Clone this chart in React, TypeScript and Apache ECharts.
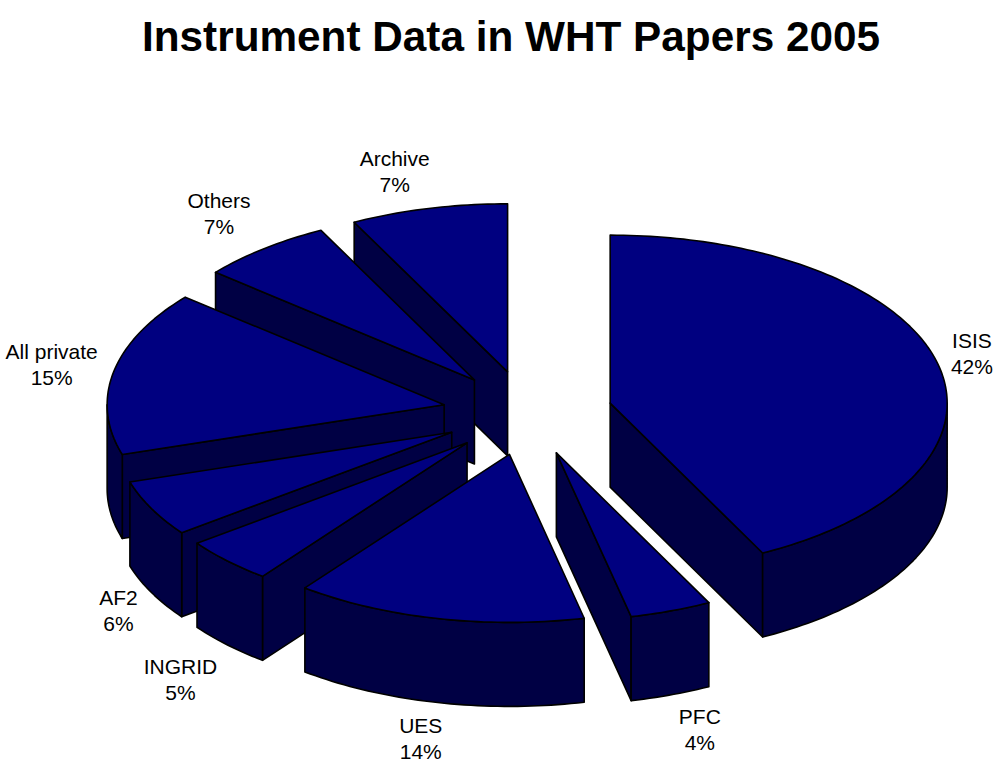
import React, { useEffect, useRef } from "react";
import * as echarts from "echarts";

const titleText = "Instrument Data in WHT Papers 2005";
const names = ["ISIS", "PFC", "UES", "INGRID", "AF2", "All private", "Others", "Archive"];
const shares = [42.4, 3.9, 13.9, 4.4, 5.4, 15.8, 6.4, 7.5];
const percentLabels = ["42%", "4%", "14%", "5%", "6%", "15%", "7%", "7%"];

// pie layout, in pixels
const CX = 527.5;
const CY = 413;
const RX = 337;
const RY = 168;
const DEPTH = 84;
const EXPLODE = 85;
const TOP = "#000080";
const SIDE = "#000044";
const EDGE = "#000000";
const labelNudge = [
  [34, -11], [29, 119], [-17, 120], [-47, 119], [-33, 102], [-62, -7], [-45, -35], [-34, -37],
];

const total = shares.reduce((a, b) => a + b, 0);
const arcPts = (ax: number, ay: number, a0: number, a1: number, dy = 0) => {
  const n = Math.max(2, Math.ceil((a1 - a0) / 0.02));
  const out: number[][] = [];
  for (let i = 0; i <= n; i++) {
    const t = a0 + ((a1 - a0) * i) / n;
    out.push([ax + RX * Math.sin(t), ay - RY * Math.cos(t) + dy]);
  }
  return out;
};

export default function App() {
  const ref = useRef<HTMLDivElement>(null);
  useEffect(() => {
    const chart = echarts.init(ref.current!, null, { renderer: "svg" });
    const starts: number[] = [];
    let acc = 0;
    shares.forEach((v) => {
      starts.push(acc);
      acc += v;
    });
    const renderItem = (_: any, api: any) => {
      const i = api.value(0) as number;
      const v = api.value(1) as number;
      const a0 = (starts[i] / total) * Math.PI * 2;
      const a1 = a0 + (v / total) * Math.PI * 2;
      const mid = (a0 + a1) / 2;
      const ax = CX + EXPLODE * Math.sin(mid);
      const ay = CY - (EXPLODE * Math.cos(mid) * RY) / RX;
      const shape = (points: number[][], fill: string) => ({
        type: "polygon",
        shape: { points },
        style: { fill, stroke: EDGE, lineWidth: 1.6, lineJoin: "round" },
      });
      const children: any[] = [];
      const p0 = arcPts(ax, ay, a0, a0)[0];
      const p1 = arcPts(ax, ay, a1, a1)[0];
      // only the radial walls that face the viewer are drawn
      if (Math.sin(a0) < -0.001) {
        children.push(shape([[ax, ay], p0, [p0[0], p0[1] + DEPTH], [ax, ay + DEPTH]], SIDE));
      }
      if (Math.sin(a1) > 0.001) {
        children.push(shape([[ax, ay], p1, [p1[0], p1[1] + DEPTH], [ax, ay + DEPTH]], SIDE));
      }
      const f0 = Math.max(a0, Math.PI / 2);
      const f1 = Math.min(a1, (Math.PI * 3) / 2);
      if (f1 > f0) {
        const up = arcPts(ax, ay, f0, f1);
        const down = arcPts(ax, ay, f0, f1, DEPTH).reverse();
        children.push(shape([...up, ...down], SIDE));
      }
      children.push(shape([[ax, ay], ...arcPts(ax, ay, a0, a1)], TOP));
      const [nx, ny] = labelNudge[i];
      children.push({
        type: "text",
        x: ax + RX * Math.sin(mid) + nx,
        y: ay - RY * Math.cos(mid) + ny,
        style: {
          text: `${names[i]}\n${percentLabels[i]}`,
          fill: "#000",
          font: "21px 'Liberation Sans'",
          lineHeight: 26,
          align: "center",
          verticalAlign: "middle",
        },
      });
      return { type: "group", children };
    };
    chart.setOption({
      animation: false,
      backgroundColor: "#ffffff",
      title: {
        text: titleText,
        left: 506,
        top: 10,
        textAlign: "center",
        textStyle: { fontFamily: "Liberation Sans", fontWeight: "bold", fontSize: 42.3, color: "#000" },
      },
      series: [
        {
          type: "custom",
          coordinateSystem: "none",
          renderItem,
          silent: true,
          data: shares.map((v, i) => [i, v]).reverse(),
          encode: { value: 1 },
        },
      ],
    });
    return () => chart.dispose();
  }, []);
  return <div ref={ref} style={{ width: 1000, height: 778, position: "absolute", left: 0, top: 0 }} />;
}
